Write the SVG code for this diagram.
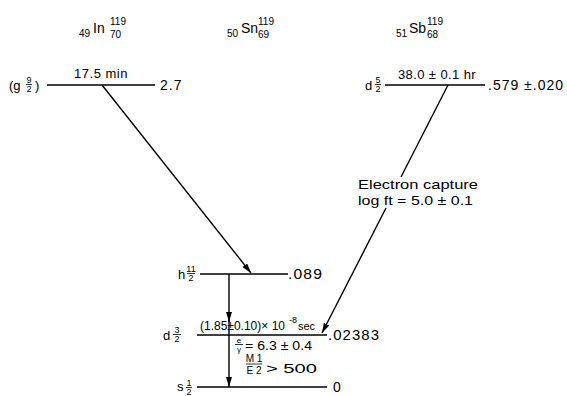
<svg xmlns="http://www.w3.org/2000/svg" width="567" height="396" viewBox="0 0 567 396">
<style>
text{font-family:"Liberation Sans","DejaVu Sans",sans-serif;fill:#000}
.m{font-size:13px}
.n{font-size:14px;letter-spacing:1px}
.b{font-size:14px}
.s{font-size:10px}
.f{font-size:9px}
.lv{stroke:#000;stroke-width:1.6;fill:none}
.tr{stroke:#000;stroke-width:1.4;fill:none}
.fb{stroke:#000;stroke-width:0.8}
</style>
<defs>
<marker id="ah" viewBox="0 0 10 6" refX="10" refY="3" markerWidth="10" markerHeight="6" markerUnits="userSpaceOnUse" orient="auto">
<path d="M0,0 L10,3 L0,6 Z" fill="#000"/>
</marker>
</defs>
<rect width="567" height="396" fill="#fff"/>

<g id="title-in">
<text class="s" x="79" y="37">49</text><text class="b" x="93" y="33">In</text><text class="s" x="110" y="25">119</text><text class="s" x="110" y="38">70</text>
</g>
<g id="title-sn">
<text class="s" x="227" y="37">50</text><text class="b" x="241" y="33">Sn</text><text class="s" x="258" y="25">119</text><text class="s" x="258" y="38">69</text>
</g>
<g id="title-sb">
<text class="s" x="396" y="37">51</text><text class="b" x="409" y="33">Sb</text><text class="s" x="427" y="25">119</text><text class="s" x="427" y="38">68</text>
</g>

<g id="in-level">
<line class="lv" x1="47" y1="85" x2="155" y2="85"/>
<text class="m" x="9" y="90">(g</text>
<text class="f" x="29" y="83" text-anchor="middle">9</text>
<line class="fb" x1="26" y1="84.5" x2="32" y2="84.5"/>
<text class="f" x="29" y="92" text-anchor="middle">2</text>
<text class="m" x="35" y="90">)</text>
<text class="m" x="101" y="78" text-anchor="middle" style="letter-spacing:0.5px">17.5 min</text>
<text class="n" x="160" y="90">2.7</text>
</g>

<g id="sb-level">
<line class="lv" x1="385" y1="85" x2="485" y2="85"/>
<text class="m" x="365" y="90">d</text>
<text class="f" x="378" y="83" text-anchor="middle">5</text>
<line class="fb" x1="375" y1="84.5" x2="381" y2="84.5"/>
<text class="f" x="378" y="92" text-anchor="middle">2</text>
<text class="m" x="437" y="79" text-anchor="middle" style="letter-spacing:0.4px">38.0 ± 0.1 hr</text>
<text class="n" x="488" y="90" textLength="76" lengthAdjust="spacingAndGlyphs">.579 ±.020</text>
</g>

<g id="h-level">
<line class="lv" x1="200" y1="274" x2="288" y2="274"/>
<text class="m" x="178" y="279">h</text>
<text class="f" x="191" y="272" text-anchor="middle">11</text>
<line class="fb" x1="187" y1="273.5" x2="195" y2="273.5"/>
<text class="f" x="191" y="281" text-anchor="middle">2</text>
<text class="n" x="288" y="279" textLength="35" lengthAdjust="spacingAndGlyphs">.089</text>
</g>

<g id="d-level">
<line class="lv" x1="197" y1="335" x2="327" y2="335"/>
<text class="m" x="163" y="340">d</text>
<text class="f" x="177" y="333" text-anchor="middle">3</text>
<line class="fb" x1="173" y1="334.5" x2="181" y2="334.5"/>
<text class="f" x="177" y="342" text-anchor="middle">2</text>
<text class="n" x="328" y="340" textLength="52" lengthAdjust="spacingAndGlyphs">.02383</text>
<text x="200" y="330" style="font-size:12px">(1.85±0.10)× 10</text>
<text x="289" y="323" style="font-size:9px">-8</text>
<text x="298" y="330" style="font-size:11px">sec</text>
</g>

<g id="s-level">
<line class="lv" x1="197" y1="387" x2="327" y2="387"/>
<text class="m" x="177" y="391">s</text>
<text class="f" x="189" y="386" text-anchor="middle">1</text>
<line class="fb" x1="186" y1="387.5" x2="192" y2="387.5"/>
<text class="f" x="189" y="395" text-anchor="middle">2</text>
<text class="n" x="333" y="392">0</text>
</g>

<g id="ec-label">
<text class="m" x="358" y="189" textLength="120" lengthAdjust="spacingAndGlyphs">Electron  capture</text>
<text class="m" x="358" y="205" textLength="115" lengthAdjust="spacingAndGlyphs">log  ft = 5.0 ± 0.1</text>
</g>

<g id="d-annot">
<text x="239" y="343" text-anchor="middle" style="font-size:8px">e</text>
<line class="fb" x1="235" y1="344.5" x2="243" y2="344.5"/>
<text x="239" y="352" text-anchor="middle" style="font-size:8px">γ</text>
<text x="245" y="350" textLength="67" lengthAdjust="spacingAndGlyphs" style="font-size:12px">= 6.3 ± 0.4</text>
<text x="254" y="362" text-anchor="middle" style="font-size:10px">M 1</text>
<line class="fb" x1="246" y1="364" x2="262" y2="364"/>
<text x="254" y="374" text-anchor="middle" style="font-size:10px">E 2</text>
<text class="m" x="266" y="373" textLength="51" lengthAdjust="spacingAndGlyphs">&gt; 500</text>
</g>

<g id="connectors">
<line class="tr" x1="102" y1="85" x2="251" y2="273" marker-end="url(#ah)"/>
<line class="tr" x1="448" y1="85" x2="401" y2="177"/>
<line class="tr" x1="386" y1="208" x2="322" y2="333" marker-end="url(#ah)"/>
<line class="tr" x1="229" y1="274" x2="229" y2="322" marker-end="url(#ah)"/>
<line class="tr" x1="229" y1="320" x2="229" y2="335"/>
<line class="tr" x1="229" y1="335" x2="229" y2="387" marker-end="url(#ah)"/>
</g>
</svg>
